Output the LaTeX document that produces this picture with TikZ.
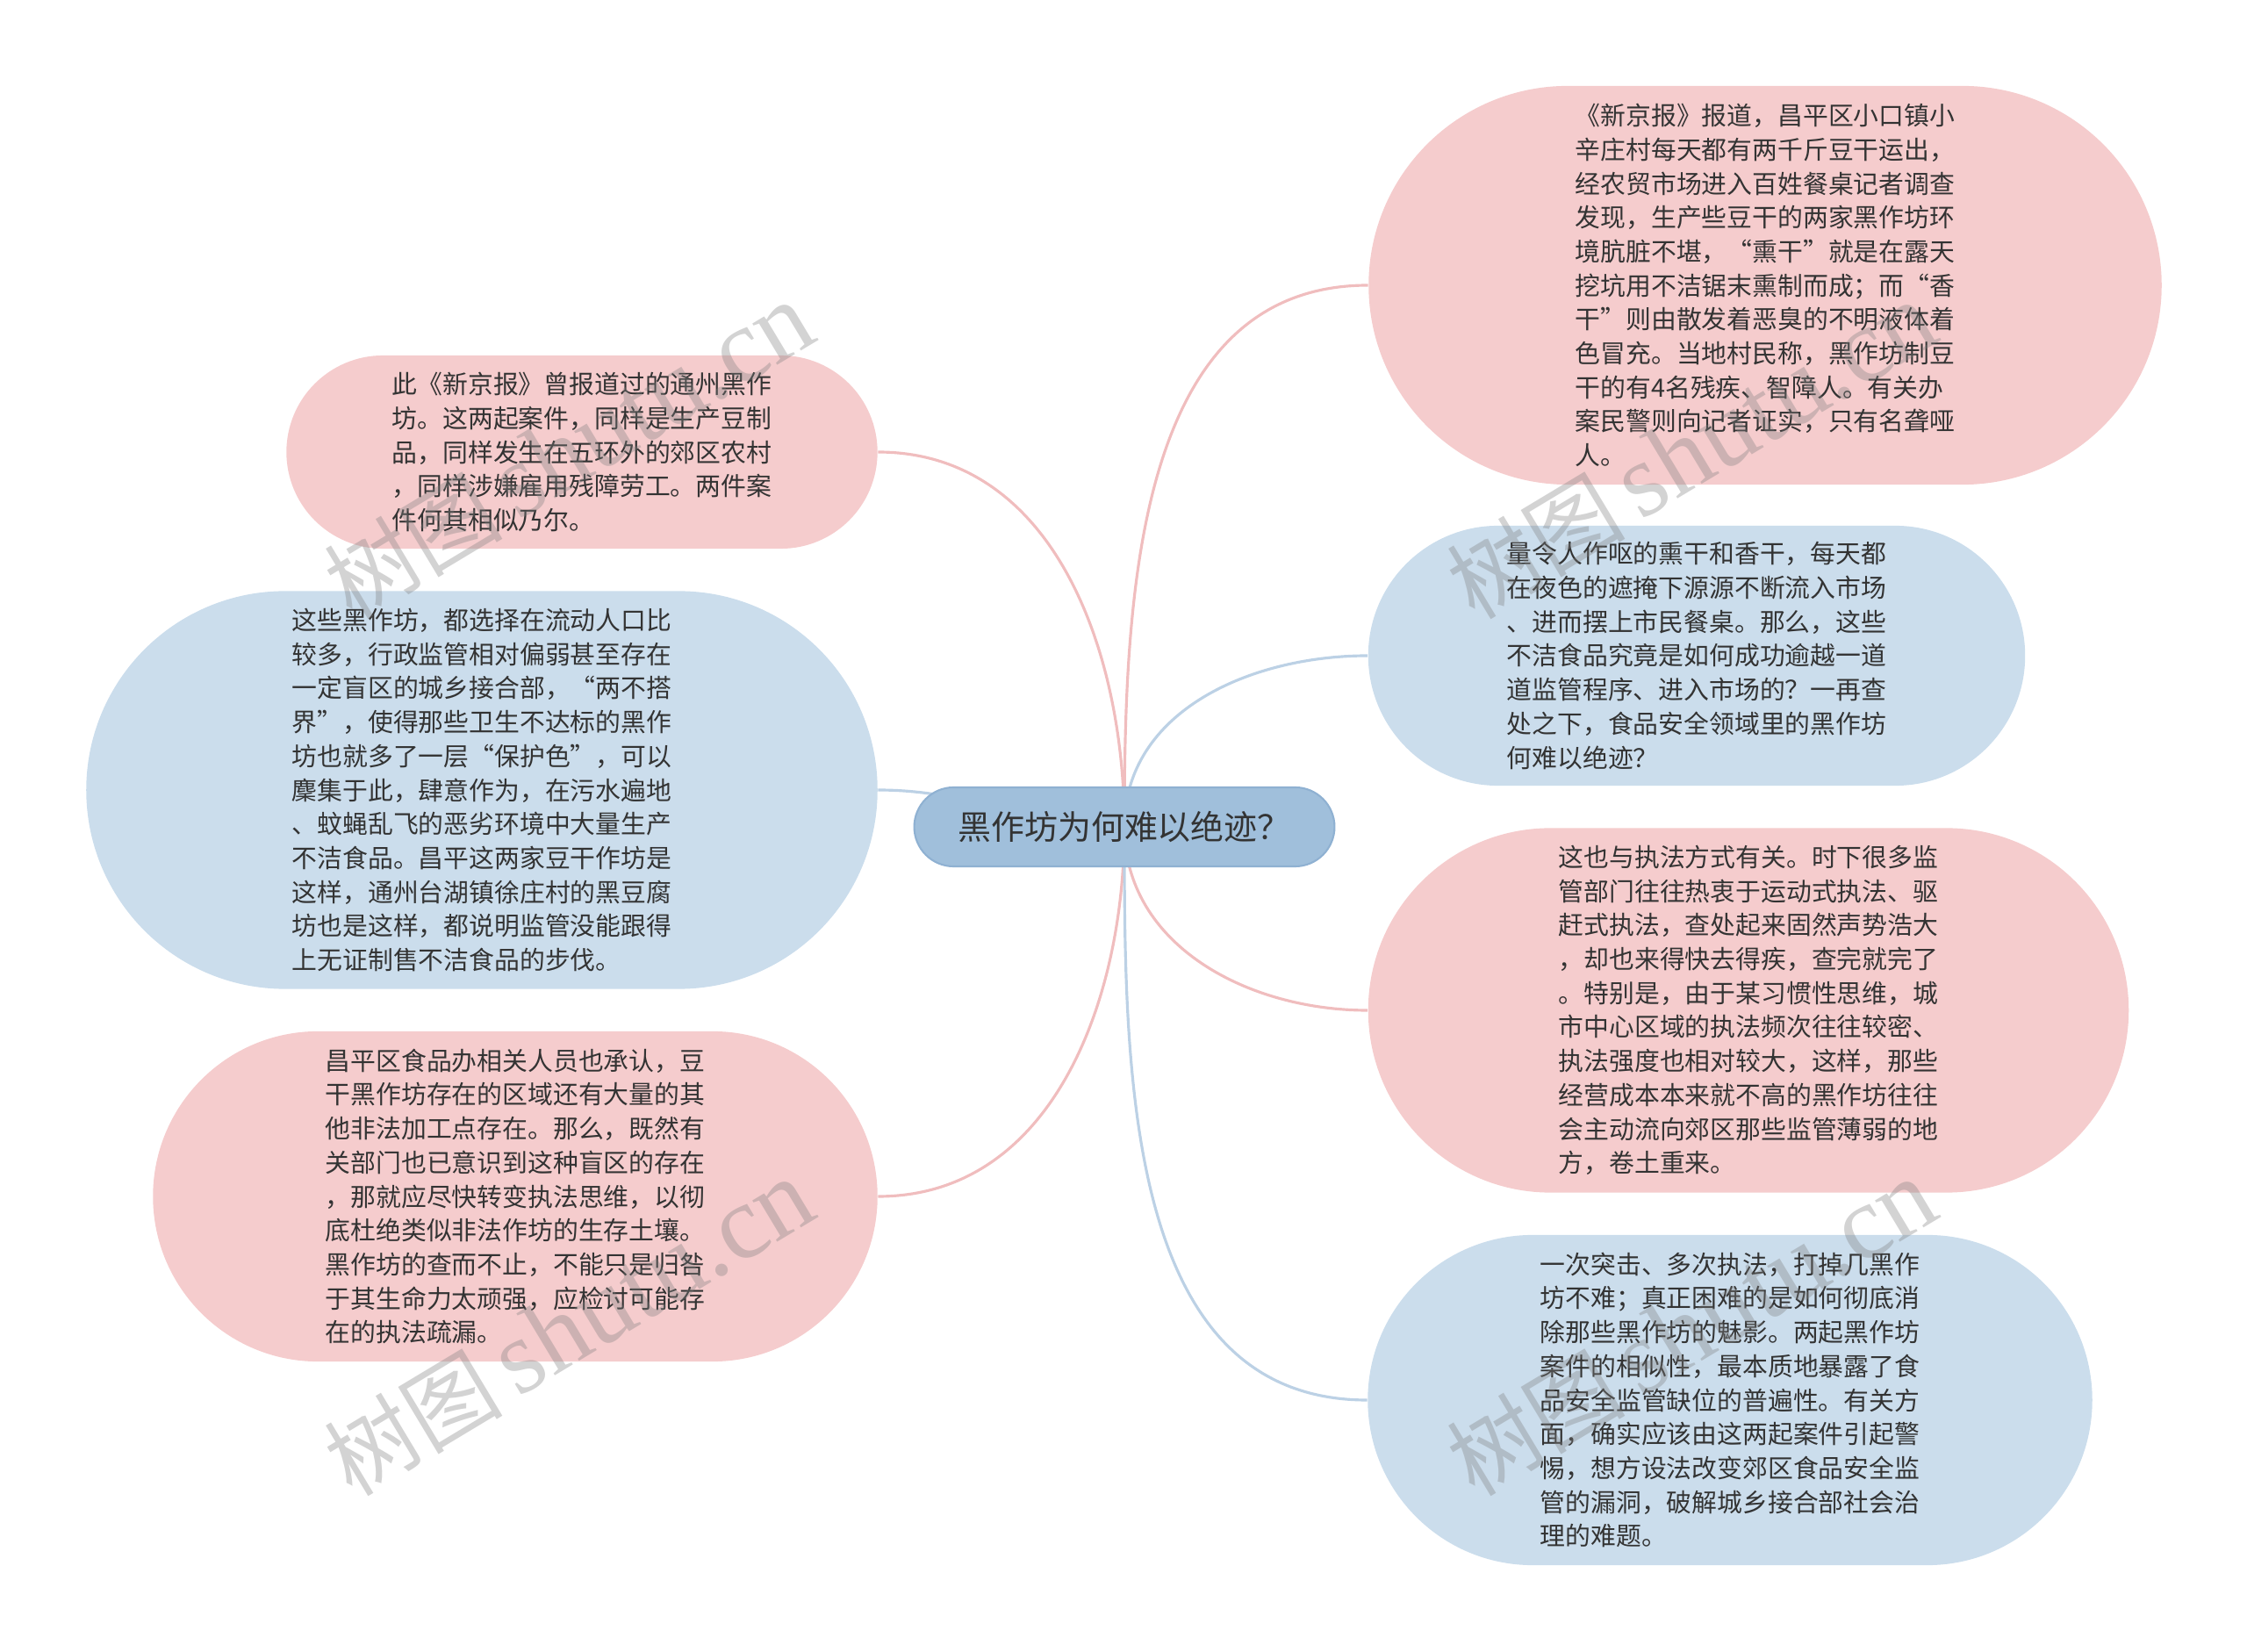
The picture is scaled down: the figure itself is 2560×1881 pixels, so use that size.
\documentclass[tikz,border=0pt]{standalone}
\usepackage{fontspec}
\setmainfont{Noto Sans CJK SC}
\newfontfamily\wmfont{Liberation Serif}
\usetikzlibrary{shapes.misc, backgrounds}

\definecolor{rootblue}{HTML}{A0BFDB}
\definecolor{rootedge}{HTML}{8FB1D2}
\definecolor{bubpink}{HTML}{F5CCCD}
\definecolor{bubblue}{HTML}{CBDDEC}
\definecolor{linepink}{HTML}{F0BDBE}
\definecolor{lineblue}{HTML}{BCD1E5}
\definecolor{textgray}{HTML}{333333}

% comillas de ancho completo
\newcommand\fq[1]{{\addfontfeatures{RawFeature=+fwid}#1}}

\tikzset{
  bubble/.style={rounded rectangle, align=left, text=textgray, inner sep=0pt,
    font=\fontsize{8.2pt}{11pt}\selectfont},
  pinkbub/.style={bubble, fill=bubpink},
  bluebub/.style={bubble, fill=bubblue},
  rootbox/.style={rounded rectangle, fill=rootblue, draw=rootedge, line width=0.6pt,
    text=textgray, font=\fontsize{10.8pt}{13pt}\selectfont,
    minimum width=5.02cm, minimum height=0.9cm},
  pinkline/.style={linepink, line width=0.9pt},
  blueline/.style={lineblue, line width=0.9pt},
  wmark/.style={text=gray, opacity=0.35, rotate=31, font=\fontsize{29pt}{30pt}\selectfont}
}

\begin{document}
\begin{tikzpicture}[x=0.01cm, y=0.01cm]
    \useasboundingbox (0,0) rectangle (2560,1881);

    % Tema central
    \node[rootbox] (root) at (1281,939) {黑作坊为何难以绝迹？};

    % Ramas de la izquierda
    \node[pinkbub, minimum width=6.73cm, minimum height=2.20cm] (tl) at (663,1366)
      {此《新京报》曾报道过的通州黑作\\坊。这两起案件，同样是生产豆制\\品，同样发生在五环外的郊区农村\\，同样涉嫌雇用残障劳工。两件案\\件何其相似乃尔。};
    \node[bluebub, minimum width=9.01cm, minimum height=4.53cm] (lm) at (549,981)
      {这些黑作坊，都选择在流动人口比\\较多，行政监管相对偏弱甚至存在\\一定盲区的城乡接合部，\fq{“}两不搭\\界\fq{”}，使得那些卫生不达标的黑作\\坊也就多了一层\fq{“}保护色\fq{”}，可以\\麇集于此，肆意作为，在污水遍地\\、蚊蝇乱飞的恶劣环境中大量生产\\不洁食品。昌平这两家豆干作坊是\\这样，通州台湖镇徐庄村的黑豆腐\\坊也是这样，都说明监管没能跟得\\上无证制售不洁食品的步伐。};
    \node[pinkbub, minimum width=8.25cm, minimum height=3.76cm] (lb) at (587,518)
      {昌平区食品办相关人员也承认，豆\\干黑作坊存在的区域还有大量的其\\他非法加工点存在。那么，既然有\\关部门也已意识到这种盲区的存在\\，那就应尽快转变执法思维，以彻\\底杜绝类似非法作坊的生存土壤。\\黑作坊的查而不止，不能只是归咎\\于其生命力太顽强，应检讨可能存\\在的执法疏漏。};

    % Ramas de la derecha
    \node[pinkbub, minimum width=9.03cm, minimum height=4.54cm] (r1) at (2011,1556)
      {《新京报》报道，昌平区小口镇小\\辛庄村每天都有两千斤豆干运出，\\经农贸市场进入百姓餐桌记者调查\\发现，生产些豆干的两家黑作坊环\\境肮脏不堪，\fq{“}熏干\fq{”}就是在露天\\挖坑用不洁锯末熏制而成；而\fq{“}香\\干\fq{”}则由散发着恶臭的不明液体着\\色冒充。当地村民称，黑作坊制豆\\干的有4名残疾、智障人。有关办\\案民警则向记者证实，只有名聋哑\\人。};
    \node[bluebub, minimum width=7.48cm, minimum height=2.96cm] (r2) at (1933,1134)
      {量令人作呕的熏干和香干，每天都\\在夜色的遮掩下源源不断流入市场\\、进而摆上市民餐桌。那么，这些\\不洁食品究竟是如何成功逾越一道\\道监管程序、进入市场的？一再查\\处之下，食品安全领域里的黑作坊\\何难以绝迹？};
    \node[pinkbub, minimum width=8.66cm, minimum height=4.15cm] (r3) at (1992,730)
      {这也与执法方式有关。时下很多监\\管部门往往热衷于运动式执法、驱\\赶式执法，查处起来固然声势浩大\\，却也来得快去得疾，查完就完了\\。特别是，由于某习惯性思维，城\\市中心区域的执法频次往往较密、\\执法强度也相对较大，这样，那些\\经营成本本来就不高的黑作坊往往\\会主动流向郊区那些监管薄弱的地\\方，卷土重来。};
    \node[bluebub, minimum width=8.25cm, minimum height=3.76cm] (r4) at (1971,286)
      {一次突击、多次执法，打掉几黑作\\坊不难；真正困难的是如何彻底消\\除那些黑作坊的魅影。两起黑作坊\\案件的相似性，最本质地暴露了食\\品安全监管缺位的普遍性。有关方\\面，确实应该由这两起案件引起警\\惕，想方设法改变郊区食品安全监\\管的漏洞，破解城乡接合部社会治\\理的难题。};

    % Conectores (detras de los nodos)
    \begin{scope}[on background layer]
      \draw[pinkline] (root.center) to[out=90, in=0] (tl.east);
      \draw[blueline] (root.center) to[out=180, in=0] (lm.east);
      \draw[pinkline] (root.center) to[out=-90, in=0] (lb.east);
      \draw[pinkline] (root.center) to[out=90, in=180] (r1.west);
      \draw[blueline] (root.center) to[out=90, in=180] (r2.west);
      \draw[pinkline] (root.center) to[out=-90, in=180] (r3.west);
      \draw[blueline] (root.center) to[out=-90, in=180] (r4.west);
    \end{scope}

    % Marcas de agua
    \node[wmark] (wm1) at (648,1367) {树图\,{\wmfont\fontsize{34pt}{36pt}\selectfont shutu.cn}};
    \node[wmark] (wm2) at (648,368) {树图\,{\wmfont\fontsize{34pt}{36pt}\selectfont shutu.cn}};
    \node[wmark] (wm3) at (1927,1367) {树图\,{\wmfont\fontsize{34pt}{36pt}\selectfont shutu.cn}};
    \node[wmark] (wm4) at (1927,368) {树图\,{\wmfont\fontsize{34pt}{36pt}\selectfont shutu.cn}};
\end{tikzpicture}
\end{document}
